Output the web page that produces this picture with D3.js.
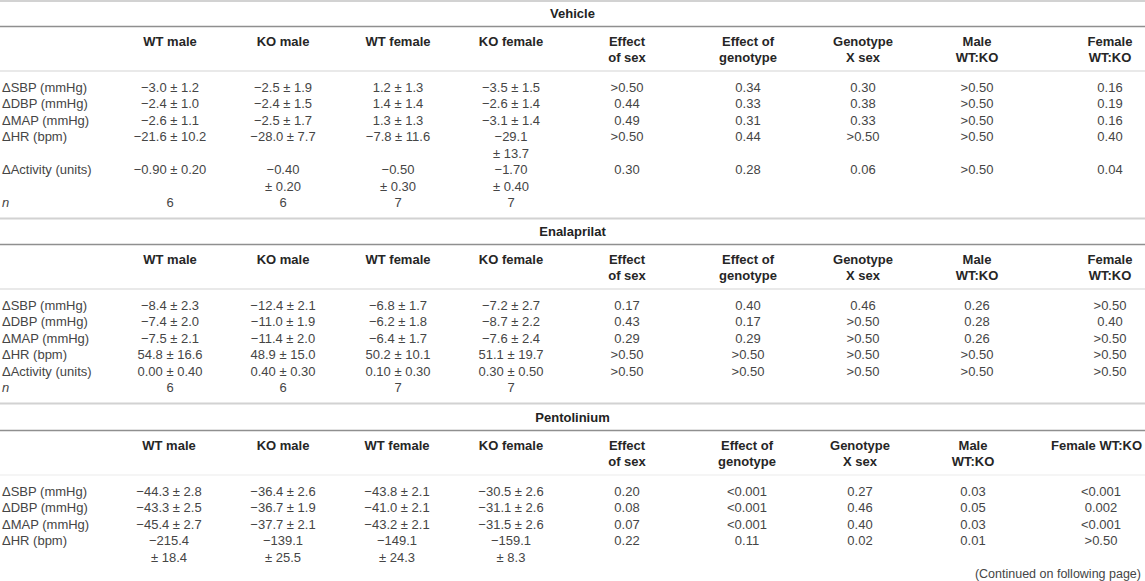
<!DOCTYPE html>
<html>
<head>
<meta charset="utf-8">
<script src="https://cdn.jsdelivr.net/npm/d3@7"></script>
<style>
  body { margin: 0; background: #fff; }
  svg text { font-family: "Liberation Sans", Arial, sans-serif; font-size: 13px; }
</style>
</head>
<body>
<svg id="table" width="1145" height="581"></svg>
<script>
// Column and row labels
const groups = ['WT male', 'KO male', 'WT female', 'KO female'];
const statHeads = [['Effect', 'of sex'], ['Effect of', 'genotype'], ['Genotype', 'X sex'], ['Male', 'WT:KO'], ['Female', 'WT:KO']];
const measures = ['\u0394SBP (mmHg)', '\u0394DBP (mmHg)', '\u0394MAP (mmHg)', '\u0394HR (bpm)', '\u0394Activity (units)'];

// Vehicle
const vehicleMean = [[-3.0, -2.5, 1.2, -3.5], [-2.4, -2.4, 1.4, -2.6], [-2.6, -2.5, 1.3, -3.1], [-21.6, -28.0, -7.8, -29.1], [-0.90, -0.40, -0.50, -1.70]];
const vehicleSem = [[1.2, 1.9, 1.3, 1.5], [1.0, 1.5, 1.4, 1.4], [1.1, 1.7, 1.3, 1.4], [10.2, 7.7, 11.6, 13.7], [0.20, 0.20, 0.30, 0.40]];
const vehicleP = [
  ['>0.50', '0.34', '0.30', '>0.50', '0.16'],
  ['0.44', '0.33', '0.38', '>0.50', '0.19'],
  ['0.49', '0.31', '0.33', '>0.50', '0.16'],
  ['>0.50', '0.44', '>0.50', '>0.50', '0.40'],
  ['0.30', '0.28', '0.06', '>0.50', '0.04'],
];
const vehicleN = [6, 6, 7, 7];

// Enalaprilat
const enalMean = [[-8.4, -12.4, -6.8, -7.2], [-7.4, -11.0, -6.2, -8.7], [-7.5, -11.4, -6.4, -7.6], [54.8, 48.9, 50.2, 51.1], [0.00, 0.40, 0.10, 0.30]];
const enalSem = [[2.3, 2.1, 1.7, 2.7], [2.0, 1.9, 1.8, 2.2], [2.1, 2.0, 1.7, 2.4], [16.6, 15.0, 10.1, 19.7], [0.40, 0.30, 0.30, 0.50]];
const enalP = [
  ['0.17', '0.40', '0.46', '0.26', '>0.50'],
  ['0.43', '0.17', '>0.50', '0.28', '0.40'],
  ['0.29', '0.29', '>0.50', '0.26', '>0.50'],
  ['>0.50', '>0.50', '>0.50', '>0.50', '>0.50'],
  ['>0.50', '>0.50', '>0.50', '>0.50', '>0.50'],
];
const enalN = [6, 6, 7, 7];

// Pentolinium (continues on next page)
const pentMean = [[-44.3, -36.4, -43.8, -30.5], [-43.3, -36.7, -41.0, -31.1], [-45.4, -37.7, -43.2, -31.5], [-215.4, -139.1, -149.1, -159.1]];
const pentSem = [[2.8, 2.6, 2.1, 2.6], [2.5, 1.9, 2.1, 2.6], [2.7, 2.1, 2.1, 2.6], [18.4, 25.5, 24.3, 8.3]];
const pentP = [
  ['0.20', '<0.001', '0.27', '0.03', '<0.001'],
  ['0.08', '<0.001', '0.46', '0.05', '0.002'],
  ['0.07', '<0.001', '0.40', '0.03', '<0.001'],
  ['0.22', '0.11', '0.02', '0.01', '>0.50'],
];

// Layout for each block: top edge, column centres, cells that wrap onto two lines
const sections = [
  { title: 'Vehicle', top: 0, mean: vehicleMean, sem: vehicleSem, p: vehicleP, n: vehicleN,
    cols: [170, 283, 398, 511, 627, 748, 863, 977, 1110], wrap: ['3-3', '4-1', '4-2', '4-3'], headRule: '#e2e2e2' },
  { title: 'Enalaprilat', top: 218, mean: enalMean, sem: enalSem, p: enalP, n: enalN,
    cols: [170, 283, 398, 511, 627, 748, 863, 977, 1110], wrap: [], headRule: '#e2e2e2' },
  { title: 'Pentolinium', top: 404, mean: pentMean, sem: pentSem, p: pentP, n: null,
    cols: [169, 283, 397, 511, 627, 747, 860, 973, 1101], wrap: ['3-0', '3-1', '3-2', '3-3'], oneLineLast: true, headRule: '#f2f2f2' },
];

const W = 1145;
const lineH = 16.5;
const textColor = '#454545';
const fmt1 = d3.format('.1f');
const fmt2 = d3.format('.2f');

const svg = d3.select('#table');

const rule = (y, color, w) => svg.append('line')
  .attr('x1', 0).attr('x2', W).attr('y1', y).attr('y2', y)
  .attr('stroke', color).attr('stroke-width', w);

// Top border
rule(1, '#d2d2d2', 2);

sections.forEach((s) => {
  const x = d3.scaleOrdinal().domain(d3.range(9)).range(s.cols);
  const g = svg.append('g');

  // Block title and its rule
  g.append('text')
    .attr('x', W / 2).attr('y', s.top + 18)
    .attr('text-anchor', 'middle').attr('font-weight', 'bold').attr('fill', '#222')
    .text(s.title);
  rule(s.top + 26.5, '#8f8f8f', 1.5);

  // Column headers
  const heads = groups.map((d) => [d]).concat(statHeads);
  if (s.oneLineLast) heads[8] = ['Female WT:KO'];
  heads.forEach((lines, i) => {
    // a one-line last header is flush with the right edge
    const flush = s.oneLineLast && i === 8;
    lines.forEach((t, k) => {
      g.append('text')
        .attr('x', flush ? W - 3 : x(i)).attr('y', s.top + 45.5 + k * lineH)
        .attr('text-anchor', flush ? 'end' : 'middle').attr('font-weight', 'bold').attr('fill', '#262626')
        .text(t);
    });
  });
  rule(s.top + 71, s.headRule, 1.5);

  // Body rows
  let cy = s.top + 87;
  s.mean.forEach((row, r) => {
    const f = r === 4 ? fmt2 : fmt1;
    let rowLines = 1;

    g.append('text').attr('x', 2).attr('y', cy + 4.5).attr('fill', textColor).text(measures[r]);

    row.forEach((m, c) => {
      const mean = f(m);
      const sem = '\u00b1 ' + f(s.sem[r][c]);
      const lines = s.wrap.includes(`${r}-${c}`) ? [mean, sem] : [`${mean} ${sem}`];
      rowLines = Math.max(rowLines, lines.length);
      lines.forEach((t, k) => {
        g.append('text')
          .attr('x', x(c)).attr('y', cy + 4.5 + k * lineH)
          .attr('text-anchor', 'middle').attr('fill', textColor)
          .text(t);
      });
    });

    s.p[r].forEach((t, j) => {
      g.append('text')
        .attr('x', x(4 + j)).attr('y', cy + 4.5)
        .attr('text-anchor', 'middle').attr('fill', textColor)
        .text(t);
    });

    cy += rowLines * lineH;
  });

  // Group sizes
  if (s.n) {
    g.append('text').attr('x', 2).attr('y', cy + 4.5)
      .attr('font-style', 'italic').attr('fill', textColor).text('n');
    s.n.forEach((v, c) => {
      g.append('text')
        .attr('x', x(c)).attr('y', cy + 4.5)
        .attr('text-anchor', 'middle').attr('fill', textColor)
        .text(v);
    });
    rule(cy + 16, '#d2d2d2', 2);
  }
});

svg.append('text')
  .attr('x', 1141).attr('y', 578)
  .attr('text-anchor', 'end').attr('fill', textColor)
  .style('font-size', '12.5px')
  .text('(Continued on following page)');
</script>
</body>
</html>
